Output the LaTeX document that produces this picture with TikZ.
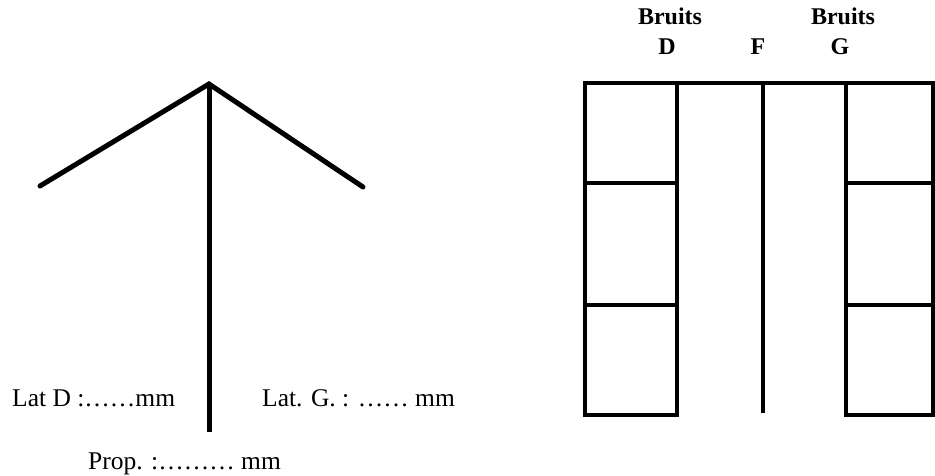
\documentclass[tikz,border=0pt]{standalone}
\usepackage{fontspec}
\setmainfont{Liberation Serif}
\begin{document}
\begin{tikzpicture}[x=1pt,y=-1pt,
  thickline/.style={line width=5pt,line cap=round,line join=miter},
  gridline/.style={line width=4pt,line cap=rect},
  lbl/.style={inner sep=0pt,anchor=base west,font=\fontsize{25.5}{30}\selectfont},
  head/.style={inner sep=0pt,anchor=base,font=\fontsize{24}{28}\selectfont\bfseries}]
\useasboundingbox (0,0) rectangle (935,476);
% left figure
\coordinate (apex) at (209,84);
\coordinate (lend) at (40,186);
\coordinate (rend) at (363,187);
\coordinate (stem) at (209,432);
\draw[thickline] (lend) -- (apex) -- (rend);
\draw[thickline,line cap=butt] (apex) -- (stem);
\node[lbl] (latd) at (12,406) {Lat D :……mm};
\node[lbl] (latg) at (262,406) {Lat. G. : …… mm};
\node[lbl] (prop) at (88,469) {Prop. :……… mm};
% right figure
\coordinate (tl) at (585,83);
\coordinate (tr) at (937,83);
\draw[gridline] (tl) -- (tr);
\draw[gridline] (585,83) rectangle (677,415);
\draw[gridline] (585,183) -- (677,183);
\draw[gridline] (585,305) -- (677,305);
\draw[gridline] (846,83) rectangle (933,415);
\draw[gridline] (846,183) -- (933,183);
\draw[gridline] (846,305) -- (933,305);
\draw[line width=4pt] (763,83) -- (763,413);
\node[head] (b1) at (670,25) {Bruits};
\node[head] (d) at (667,55) {D};
\node[head] (f) at (758,55) {F};
\node[head] (b2) at (843,25) {Bruits};
\node[head] (g) at (840,55) {G};
\end{tikzpicture}
\end{document}
